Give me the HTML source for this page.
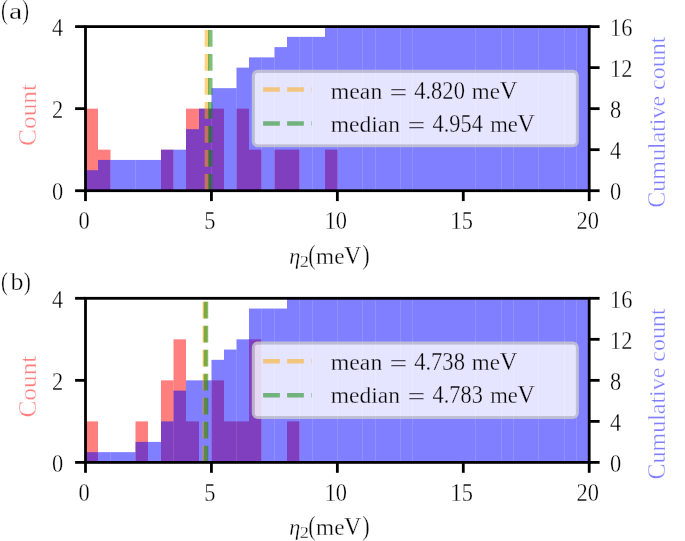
<!DOCTYPE html>
<html><head><meta charset="utf-8"><title>Histogram</title>
<style>
html,body{margin:0;padding:0;background:#fff;}
svg{display:block;will-change:transform;}
.t{font-family:"Liberation Serif",serif;font-size:24px;fill:#000;stroke:#fff;stroke-width:0.3px;stroke-linejoin:round;}
.lg .t{stroke:#e5e5ff;}
</style></head>
<body>
<svg width="685" height="541" viewBox="0 0 685 541">
<rect x="0" y="0" width="685" height="541" fill="#fff"/>
<g>
<rect x="85.50" y="108.65" width="12.50" height="82.05" fill="#ff0000" fill-opacity="0.5"/>
<rect x="98.00" y="149.67" width="12.50" height="41.02" fill="#ff0000" fill-opacity="0.5"/>
<rect x="161.00" y="149.67" width="12.50" height="41.02" fill="#ff0000" fill-opacity="0.5"/>
<rect x="186.00" y="108.65" width="13.00" height="82.05" fill="#ff0000" fill-opacity="0.5"/>
<rect x="199.00" y="108.65" width="12.50" height="82.05" fill="#ff0000" fill-opacity="0.5"/>
<rect x="211.50" y="108.65" width="12.50" height="82.05" fill="#ff0000" fill-opacity="0.5"/>
<rect x="236.50" y="108.65" width="12.50" height="82.05" fill="#ff0000" fill-opacity="0.5"/>
<rect x="249.00" y="149.67" width="12.50" height="41.02" fill="#ff0000" fill-opacity="0.5"/>
<rect x="274.50" y="149.67" width="12.50" height="41.02" fill="#ff0000" fill-opacity="0.5"/>
<rect x="287.00" y="149.67" width="12.50" height="41.02" fill="#ff0000" fill-opacity="0.5"/>
<rect x="325.00" y="149.67" width="12.50" height="41.02" fill="#ff0000" fill-opacity="0.5"/>
<rect x="85.50" y="170.19" width="12.50" height="20.51" fill="#0000ff" fill-opacity="0.5"/>
<rect x="98.00" y="159.93" width="12.50" height="30.77" fill="#0000ff" fill-opacity="0.5"/>
<rect x="110.50" y="159.93" width="12.50" height="30.77" fill="#0000ff" fill-opacity="0.5"/>
<rect x="123.00" y="159.93" width="12.50" height="30.77" fill="#0000ff" fill-opacity="0.5"/>
<rect x="135.50" y="159.93" width="12.50" height="30.77" fill="#0000ff" fill-opacity="0.5"/>
<rect x="148.00" y="159.93" width="13.00" height="30.77" fill="#0000ff" fill-opacity="0.5"/>
<rect x="161.00" y="149.67" width="12.50" height="41.02" fill="#0000ff" fill-opacity="0.5"/>
<rect x="173.50" y="149.67" width="12.50" height="41.02" fill="#0000ff" fill-opacity="0.5"/>
<rect x="186.00" y="129.16" width="13.00" height="61.54" fill="#0000ff" fill-opacity="0.5"/>
<rect x="199.00" y="108.65" width="12.50" height="82.05" fill="#0000ff" fill-opacity="0.5"/>
<rect x="211.50" y="88.14" width="12.50" height="102.56" fill="#0000ff" fill-opacity="0.5"/>
<rect x="224.00" y="88.14" width="12.50" height="102.56" fill="#0000ff" fill-opacity="0.5"/>
<rect x="236.50" y="67.62" width="12.50" height="123.07" fill="#0000ff" fill-opacity="0.5"/>
<rect x="249.00" y="57.37" width="12.50" height="133.33" fill="#0000ff" fill-opacity="0.5"/>
<rect x="261.50" y="57.37" width="13.00" height="133.33" fill="#0000ff" fill-opacity="0.5"/>
<rect x="274.50" y="47.11" width="12.50" height="143.59" fill="#0000ff" fill-opacity="0.5"/>
<rect x="287.00" y="36.86" width="12.50" height="153.84" fill="#0000ff" fill-opacity="0.5"/>
<rect x="299.50" y="36.86" width="13.00" height="153.84" fill="#0000ff" fill-opacity="0.5"/>
<rect x="312.50" y="36.86" width="12.50" height="153.84" fill="#0000ff" fill-opacity="0.5"/>
<rect x="325.00" y="26.60" width="12.50" height="164.10" fill="#0000ff" fill-opacity="0.5"/>
<rect x="337.50" y="26.60" width="12.50" height="164.10" fill="#0000ff" fill-opacity="0.5"/>
<rect x="350.00" y="26.60" width="12.50" height="164.10" fill="#0000ff" fill-opacity="0.5"/>
<rect x="362.50" y="26.60" width="13.00" height="164.10" fill="#0000ff" fill-opacity="0.5"/>
<rect x="375.50" y="26.60" width="12.50" height="164.10" fill="#0000ff" fill-opacity="0.5"/>
<rect x="388.00" y="26.60" width="12.50" height="164.10" fill="#0000ff" fill-opacity="0.5"/>
<rect x="400.50" y="26.60" width="12.00" height="164.10" fill="#0000ff" fill-opacity="0.5"/>
<rect x="412.50" y="26.60" width="12.50" height="164.10" fill="#0000ff" fill-opacity="0.5"/>
<rect x="425.00" y="26.60" width="13.00" height="164.10" fill="#0000ff" fill-opacity="0.5"/>
<rect x="438.00" y="26.60" width="13.00" height="164.10" fill="#0000ff" fill-opacity="0.5"/>
<rect x="451.00" y="26.60" width="12.00" height="164.10" fill="#0000ff" fill-opacity="0.5"/>
<rect x="463.00" y="26.60" width="12.50" height="164.10" fill="#0000ff" fill-opacity="0.5"/>
<rect x="475.50" y="26.60" width="12.50" height="164.10" fill="#0000ff" fill-opacity="0.5"/>
<rect x="488.00" y="26.60" width="13.50" height="164.10" fill="#0000ff" fill-opacity="0.5"/>
<rect x="501.50" y="26.60" width="12.00" height="164.10" fill="#0000ff" fill-opacity="0.5"/>
<rect x="513.50" y="26.60" width="12.50" height="164.10" fill="#0000ff" fill-opacity="0.5"/>
<rect x="526.00" y="26.60" width="12.50" height="164.10" fill="#0000ff" fill-opacity="0.5"/>
<rect x="538.50" y="26.60" width="12.50" height="164.10" fill="#0000ff" fill-opacity="0.5"/>
<rect x="551.00" y="26.60" width="13.50" height="164.10" fill="#0000ff" fill-opacity="0.5"/>
<rect x="564.50" y="26.60" width="12.00" height="164.10" fill="#0000ff" fill-opacity="0.5"/>
<rect x="576.50" y="26.60" width="12.70" height="164.10" fill="#0000ff" fill-opacity="0.5"/>
<line x1="206.89" y1="190.70" x2="206.89" y2="26.60" stroke="#ffa500" stroke-opacity="0.5" stroke-width="4.53" stroke-dasharray="16.75 7.25"/>
<line x1="210.27" y1="190.70" x2="210.27" y2="26.60" stroke="#008000" stroke-opacity="0.5" stroke-width="4.53" stroke-dasharray="16.75 7.25"/>
<rect x="85.50" y="26.60" width="503.70" height="164.10" fill="none" stroke="#000" stroke-width="2.8" stroke-linejoin="miter"/>
<line x1="85.50" y1="190.70" x2="85.50" y2="201.10" stroke="#000" stroke-width="2.8"/>
<text transform="translate(84.00 229.30) scale(0.935 1.045)" text-anchor="middle" class="t">0</text>
<line x1="211.43" y1="190.70" x2="211.43" y2="201.10" stroke="#000" stroke-width="2.8"/>
<text transform="translate(209.93 229.30) scale(0.935 1.045)" text-anchor="middle" class="t">5</text>
<line x1="337.35" y1="190.70" x2="337.35" y2="201.10" stroke="#000" stroke-width="2.8"/>
<text transform="translate(335.85 229.30) scale(0.935 1.045)" text-anchor="middle" class="t">10</text>
<line x1="463.28" y1="190.70" x2="463.28" y2="201.10" stroke="#000" stroke-width="2.8"/>
<text transform="translate(461.78 229.30) scale(0.935 1.045)" text-anchor="middle" class="t">15</text>
<line x1="589.20" y1="190.70" x2="589.20" y2="201.10" stroke="#000" stroke-width="2.8"/>
<text transform="translate(587.70 229.30) scale(0.935 1.045)" text-anchor="middle" class="t">20</text>
<line x1="85.50" y1="190.70" x2="75.10" y2="190.70" stroke="#000" stroke-width="2.8"/>
<text transform="translate(63.2 200.00) scale(0.935 1.045)" text-anchor="end" class="t">0</text>
<line x1="85.50" y1="108.65" x2="75.10" y2="108.65" stroke="#000" stroke-width="2.8"/>
<text transform="translate(63.2 117.95) scale(0.935 1.045)" text-anchor="end" class="t">2</text>
<line x1="85.50" y1="26.60" x2="75.10" y2="26.60" stroke="#000" stroke-width="2.8"/>
<text transform="translate(63.2 35.90) scale(0.935 1.045)" text-anchor="end" class="t">4</text>
<line x1="589.20" y1="190.70" x2="599.60" y2="190.70" stroke="#000" stroke-width="2.8"/>
<text transform="translate(610.1 200.00) scale(0.935 1.045)" text-anchor="start" class="t">0</text>
<line x1="589.20" y1="149.67" x2="599.60" y2="149.67" stroke="#000" stroke-width="2.8"/>
<text transform="translate(610.1 158.97) scale(0.935 1.045)" text-anchor="start" class="t">4</text>
<line x1="589.20" y1="108.65" x2="599.60" y2="108.65" stroke="#000" stroke-width="2.8"/>
<text transform="translate(610.1 117.95) scale(0.935 1.045)" text-anchor="start" class="t">8</text>
<line x1="589.20" y1="67.62" x2="599.60" y2="67.62" stroke="#000" stroke-width="2.8"/>
<text transform="translate(610.1 76.92) scale(0.935 1.045)" text-anchor="start" class="t">12</text>
<line x1="589.20" y1="26.60" x2="599.60" y2="26.60" stroke="#000" stroke-width="2.8"/>
<text transform="translate(610.1 35.90) scale(0.935 1.045)" text-anchor="start" class="t">16</text>
<g transform="translate(35.8 145.90) rotate(-90)"><text transform="translate(0.00 0) scale(1 1.08)" class="t" style="fill:#ff0000;fill-opacity:0.5" textLength="16.91" lengthAdjust="spacingAndGlyphs">C</text><text transform="translate(16.91 0) scale(1 1.0)" class="t" style="fill:#ff0000;fill-opacity:0.5" textLength="45.09" lengthAdjust="spacingAndGlyphs">ount</text></g>
<g transform="translate(665.4 207.70) rotate(-90)"><text transform="translate(0.00 0) scale(1 1.08)" class="t" style="fill:#0000ff;fill-opacity:0.5" textLength="15.98" lengthAdjust="spacingAndGlyphs">C</text><text transform="translate(15.98 0) scale(1 1.0)" class="t" style="fill:#0000ff;fill-opacity:0.5" textLength="42.59" lengthAdjust="spacingAndGlyphs">umu</text><text transform="translate(58.57 0) scale(1 1.08)" class="t" style="fill:#0000ff;fill-opacity:0.5" textLength="6.66" lengthAdjust="spacingAndGlyphs">l</text><text transform="translate(65.23 0) scale(1 1.0)" class="t" style="fill:#0000ff;fill-opacity:0.5" textLength="46.56" lengthAdjust="spacingAndGlyphs">ative</text><text transform="translate(117.77 0) scale(1 1.0)" class="t" style="fill:#0000ff;fill-opacity:0.5" textLength="53.23" lengthAdjust="spacingAndGlyphs">count</text></g>
<text x="289.2" y="263.90" class="t" font-style="italic" textLength="11.0" lengthAdjust="spacingAndGlyphs">η</text>
<text x="299.7" y="266.70" class="t" style="font-size:16.8px" textLength="9.2" lengthAdjust="spacingAndGlyphs">2</text>
<text transform="translate(308.30 263.90) scale(1 1.13)" class="t" textLength="7.40" lengthAdjust="spacingAndGlyphs">(</text>
<text transform="translate(316.10 263.90) scale(1 1.0)" class="t" textLength="28.36" lengthAdjust="spacingAndGlyphs">me</text>
<text transform="translate(344.30 263.90) scale(1 1.05)" class="t" textLength="16.90" lengthAdjust="spacingAndGlyphs">V</text>
<text transform="translate(362.30 263.90) scale(1 1.13)" class="t" textLength="7.40" lengthAdjust="spacingAndGlyphs">)</text>
<text transform="translate(1.10 18.70) scale(1 1.1)" class="t" textLength="6.80" lengthAdjust="spacingAndGlyphs">(</text>
<text transform="translate(8.90 18.70) scale(1 1.0)" class="t" textLength="13.30" lengthAdjust="spacingAndGlyphs">a</text>
<text transform="translate(22.30 18.70) scale(1 1.1)" class="t" textLength="6.80" lengthAdjust="spacingAndGlyphs">)</text>
<rect x="254.6" y="72.65" width="321.6" height="72.0" rx="3.4" ry="3.4" fill="#fff" fill-opacity="0.8"/>
<rect x="253.35" y="71.35" width="323.95" height="74.45" rx="4.6" ry="4.6" fill="none" stroke="#cccccc" stroke-opacity="0.8" stroke-width="3.1"/>
<line x1="263.1" y1="89.60" x2="311.6" y2="89.60" stroke="#ffa500" stroke-opacity="0.5" stroke-width="4.53" stroke-dasharray="16.75 7.25"/>
<line x1="263.1" y1="123.50" x2="311.6" y2="123.50" stroke="#008000" stroke-opacity="0.5" stroke-width="4.53" stroke-dasharray="16.75 7.25"/>
<g class="lg">
<text transform="translate(330.70 99.00) scale(1 1.0)" class="t" textLength="51.60" lengthAdjust="spacingAndGlyphs">mean</text>
<text transform="translate(389.60 100.40) scale(1 1.0)" class="t" textLength="17.90" lengthAdjust="spacingAndGlyphs">=</text>
<text transform="translate(414.20 99.00) scale(1 1.025)" class="t" textLength="50.70" lengthAdjust="spacingAndGlyphs">4.820</text>
<text transform="translate(471.80 99.00) scale(1 1.0)" class="t" textLength="28.16" lengthAdjust="spacingAndGlyphs">me</text>
<text transform="translate(499.66 99.00) scale(1 1.025)" class="t" textLength="17.64" lengthAdjust="spacingAndGlyphs">V</text>
<text transform="translate(330.70 132.00) scale(1 1.0)" class="t" textLength="69.40" lengthAdjust="spacingAndGlyphs">median</text>
<text transform="translate(407.40 133.40) scale(1 1.0)" class="t" textLength="17.90" lengthAdjust="spacingAndGlyphs">=</text>
<text transform="translate(432.60 132.00) scale(1 1.025)" class="t" textLength="50.20" lengthAdjust="spacingAndGlyphs">4.954</text>
<text transform="translate(490.20 132.00) scale(1 1.0)" class="t" textLength="27.66" lengthAdjust="spacingAndGlyphs">me</text>
<text transform="translate(517.56 132.00) scale(1 1.025)" class="t" textLength="17.34" lengthAdjust="spacingAndGlyphs">V</text>
</g>
</g>
<g>
<rect x="85.50" y="421.38" width="12.50" height="41.02" fill="#ff0000" fill-opacity="0.5"/>
<rect x="135.50" y="421.38" width="12.50" height="41.02" fill="#ff0000" fill-opacity="0.5"/>
<rect x="161.00" y="380.35" width="12.50" height="82.05" fill="#ff0000" fill-opacity="0.5"/>
<rect x="173.50" y="339.32" width="12.50" height="123.07" fill="#ff0000" fill-opacity="0.5"/>
<rect x="186.00" y="421.38" width="13.00" height="41.02" fill="#ff0000" fill-opacity="0.5"/>
<rect x="211.50" y="380.35" width="12.50" height="82.05" fill="#ff0000" fill-opacity="0.5"/>
<rect x="224.00" y="421.38" width="12.50" height="41.02" fill="#ff0000" fill-opacity="0.5"/>
<rect x="236.50" y="421.38" width="12.50" height="41.02" fill="#ff0000" fill-opacity="0.5"/>
<rect x="249.00" y="339.32" width="12.50" height="123.07" fill="#ff0000" fill-opacity="0.5"/>
<rect x="287.00" y="421.38" width="12.50" height="41.02" fill="#ff0000" fill-opacity="0.5"/>
<rect x="85.50" y="452.14" width="12.50" height="10.26" fill="#0000ff" fill-opacity="0.5"/>
<rect x="98.00" y="452.14" width="12.50" height="10.26" fill="#0000ff" fill-opacity="0.5"/>
<rect x="110.50" y="452.14" width="12.50" height="10.26" fill="#0000ff" fill-opacity="0.5"/>
<rect x="123.00" y="452.14" width="12.50" height="10.26" fill="#0000ff" fill-opacity="0.5"/>
<rect x="135.50" y="441.89" width="12.50" height="20.51" fill="#0000ff" fill-opacity="0.5"/>
<rect x="148.00" y="441.89" width="13.00" height="20.51" fill="#0000ff" fill-opacity="0.5"/>
<rect x="161.00" y="421.38" width="12.50" height="41.02" fill="#0000ff" fill-opacity="0.5"/>
<rect x="173.50" y="390.61" width="12.50" height="71.79" fill="#0000ff" fill-opacity="0.5"/>
<rect x="186.00" y="380.35" width="13.00" height="82.05" fill="#0000ff" fill-opacity="0.5"/>
<rect x="199.00" y="380.35" width="12.50" height="82.05" fill="#0000ff" fill-opacity="0.5"/>
<rect x="211.50" y="359.84" width="12.50" height="102.56" fill="#0000ff" fill-opacity="0.5"/>
<rect x="224.00" y="349.58" width="12.50" height="112.82" fill="#0000ff" fill-opacity="0.5"/>
<rect x="236.50" y="339.32" width="12.50" height="123.07" fill="#0000ff" fill-opacity="0.5"/>
<rect x="249.00" y="308.56" width="12.50" height="153.84" fill="#0000ff" fill-opacity="0.5"/>
<rect x="261.50" y="308.56" width="13.00" height="153.84" fill="#0000ff" fill-opacity="0.5"/>
<rect x="274.50" y="308.56" width="12.50" height="153.84" fill="#0000ff" fill-opacity="0.5"/>
<rect x="287.00" y="298.30" width="12.50" height="164.10" fill="#0000ff" fill-opacity="0.5"/>
<rect x="299.50" y="298.30" width="13.00" height="164.10" fill="#0000ff" fill-opacity="0.5"/>
<rect x="312.50" y="298.30" width="12.50" height="164.10" fill="#0000ff" fill-opacity="0.5"/>
<rect x="325.00" y="298.30" width="12.50" height="164.10" fill="#0000ff" fill-opacity="0.5"/>
<rect x="337.50" y="298.30" width="12.50" height="164.10" fill="#0000ff" fill-opacity="0.5"/>
<rect x="350.00" y="298.30" width="12.50" height="164.10" fill="#0000ff" fill-opacity="0.5"/>
<rect x="362.50" y="298.30" width="13.00" height="164.10" fill="#0000ff" fill-opacity="0.5"/>
<rect x="375.50" y="298.30" width="12.50" height="164.10" fill="#0000ff" fill-opacity="0.5"/>
<rect x="388.00" y="298.30" width="12.50" height="164.10" fill="#0000ff" fill-opacity="0.5"/>
<rect x="400.50" y="298.30" width="12.00" height="164.10" fill="#0000ff" fill-opacity="0.5"/>
<rect x="412.50" y="298.30" width="12.50" height="164.10" fill="#0000ff" fill-opacity="0.5"/>
<rect x="425.00" y="298.30" width="13.00" height="164.10" fill="#0000ff" fill-opacity="0.5"/>
<rect x="438.00" y="298.30" width="13.00" height="164.10" fill="#0000ff" fill-opacity="0.5"/>
<rect x="451.00" y="298.30" width="12.00" height="164.10" fill="#0000ff" fill-opacity="0.5"/>
<rect x="463.00" y="298.30" width="12.50" height="164.10" fill="#0000ff" fill-opacity="0.5"/>
<rect x="475.50" y="298.30" width="12.50" height="164.10" fill="#0000ff" fill-opacity="0.5"/>
<rect x="488.00" y="298.30" width="13.50" height="164.10" fill="#0000ff" fill-opacity="0.5"/>
<rect x="501.50" y="298.30" width="12.00" height="164.10" fill="#0000ff" fill-opacity="0.5"/>
<rect x="513.50" y="298.30" width="12.50" height="164.10" fill="#0000ff" fill-opacity="0.5"/>
<rect x="526.00" y="298.30" width="12.50" height="164.10" fill="#0000ff" fill-opacity="0.5"/>
<rect x="538.50" y="298.30" width="12.50" height="164.10" fill="#0000ff" fill-opacity="0.5"/>
<rect x="551.00" y="298.30" width="13.50" height="164.10" fill="#0000ff" fill-opacity="0.5"/>
<rect x="564.50" y="298.30" width="12.00" height="164.10" fill="#0000ff" fill-opacity="0.5"/>
<rect x="576.50" y="298.30" width="12.70" height="164.10" fill="#0000ff" fill-opacity="0.5"/>
<line x1="204.83" y1="462.40" x2="204.83" y2="298.30" stroke="#ffa500" stroke-opacity="0.5" stroke-width="4.53" stroke-dasharray="16.75 7.25"/>
<line x1="205.96" y1="462.40" x2="205.96" y2="298.30" stroke="#008000" stroke-opacity="0.5" stroke-width="4.53" stroke-dasharray="16.75 7.25"/>
<rect x="85.50" y="298.30" width="503.70" height="164.10" fill="none" stroke="#000" stroke-width="2.8" stroke-linejoin="miter"/>
<line x1="85.50" y1="462.40" x2="85.50" y2="472.80" stroke="#000" stroke-width="2.8"/>
<text transform="translate(84.00 501.00) scale(0.935 1.045)" text-anchor="middle" class="t">0</text>
<line x1="211.43" y1="462.40" x2="211.43" y2="472.80" stroke="#000" stroke-width="2.8"/>
<text transform="translate(209.93 501.00) scale(0.935 1.045)" text-anchor="middle" class="t">5</text>
<line x1="337.35" y1="462.40" x2="337.35" y2="472.80" stroke="#000" stroke-width="2.8"/>
<text transform="translate(335.85 501.00) scale(0.935 1.045)" text-anchor="middle" class="t">10</text>
<line x1="463.28" y1="462.40" x2="463.28" y2="472.80" stroke="#000" stroke-width="2.8"/>
<text transform="translate(461.78 501.00) scale(0.935 1.045)" text-anchor="middle" class="t">15</text>
<line x1="589.20" y1="462.40" x2="589.20" y2="472.80" stroke="#000" stroke-width="2.8"/>
<text transform="translate(587.70 501.00) scale(0.935 1.045)" text-anchor="middle" class="t">20</text>
<line x1="85.50" y1="462.40" x2="75.10" y2="462.40" stroke="#000" stroke-width="2.8"/>
<text transform="translate(63.2 471.70) scale(0.935 1.045)" text-anchor="end" class="t">0</text>
<line x1="85.50" y1="380.35" x2="75.10" y2="380.35" stroke="#000" stroke-width="2.8"/>
<text transform="translate(63.2 389.65) scale(0.935 1.045)" text-anchor="end" class="t">2</text>
<line x1="85.50" y1="298.30" x2="75.10" y2="298.30" stroke="#000" stroke-width="2.8"/>
<text transform="translate(63.2 307.60) scale(0.935 1.045)" text-anchor="end" class="t">4</text>
<line x1="589.20" y1="462.40" x2="599.60" y2="462.40" stroke="#000" stroke-width="2.8"/>
<text transform="translate(610.1 471.70) scale(0.935 1.045)" text-anchor="start" class="t">0</text>
<line x1="589.20" y1="421.38" x2="599.60" y2="421.38" stroke="#000" stroke-width="2.8"/>
<text transform="translate(610.1 430.68) scale(0.935 1.045)" text-anchor="start" class="t">4</text>
<line x1="589.20" y1="380.35" x2="599.60" y2="380.35" stroke="#000" stroke-width="2.8"/>
<text transform="translate(610.1 389.65) scale(0.935 1.045)" text-anchor="start" class="t">8</text>
<line x1="589.20" y1="339.32" x2="599.60" y2="339.32" stroke="#000" stroke-width="2.8"/>
<text transform="translate(610.1 348.62) scale(0.935 1.045)" text-anchor="start" class="t">12</text>
<line x1="589.20" y1="298.30" x2="599.60" y2="298.30" stroke="#000" stroke-width="2.8"/>
<text transform="translate(610.1 307.60) scale(0.935 1.045)" text-anchor="start" class="t">16</text>
<g transform="translate(35.8 417.60) rotate(-90)"><text transform="translate(0.00 0) scale(1 1.08)" class="t" style="fill:#ff0000;fill-opacity:0.5" textLength="16.91" lengthAdjust="spacingAndGlyphs">C</text><text transform="translate(16.91 0) scale(1 1.0)" class="t" style="fill:#ff0000;fill-opacity:0.5" textLength="45.09" lengthAdjust="spacingAndGlyphs">ount</text></g>
<g transform="translate(665.4 479.40) rotate(-90)"><text transform="translate(0.00 0) scale(1 1.08)" class="t" style="fill:#0000ff;fill-opacity:0.5" textLength="15.98" lengthAdjust="spacingAndGlyphs">C</text><text transform="translate(15.98 0) scale(1 1.0)" class="t" style="fill:#0000ff;fill-opacity:0.5" textLength="42.59" lengthAdjust="spacingAndGlyphs">umu</text><text transform="translate(58.57 0) scale(1 1.08)" class="t" style="fill:#0000ff;fill-opacity:0.5" textLength="6.66" lengthAdjust="spacingAndGlyphs">l</text><text transform="translate(65.23 0) scale(1 1.0)" class="t" style="fill:#0000ff;fill-opacity:0.5" textLength="46.56" lengthAdjust="spacingAndGlyphs">ative</text><text transform="translate(117.77 0) scale(1 1.0)" class="t" style="fill:#0000ff;fill-opacity:0.5" textLength="53.23" lengthAdjust="spacingAndGlyphs">count</text></g>
<text x="289.2" y="535.00" class="t" font-style="italic" textLength="11.0" lengthAdjust="spacingAndGlyphs">η</text>
<text x="299.7" y="537.80" class="t" style="font-size:16.8px" textLength="9.2" lengthAdjust="spacingAndGlyphs">2</text>
<text transform="translate(308.30 535.00) scale(1 1.13)" class="t" textLength="7.40" lengthAdjust="spacingAndGlyphs">(</text>
<text transform="translate(316.10 535.00) scale(1 1.0)" class="t" textLength="28.36" lengthAdjust="spacingAndGlyphs">me</text>
<text transform="translate(344.30 535.00) scale(1 1.05)" class="t" textLength="16.90" lengthAdjust="spacingAndGlyphs">V</text>
<text transform="translate(362.30 535.00) scale(1 1.13)" class="t" textLength="7.40" lengthAdjust="spacingAndGlyphs">)</text>
<text transform="translate(1.10 290.20) scale(1 1.08)" class="t" textLength="6.80" lengthAdjust="spacingAndGlyphs">(</text>
<text transform="translate(10.40 290.00) scale(1 1.09)" class="t" textLength="13.00" lengthAdjust="spacingAndGlyphs">b</text>
<text transform="translate(23.90 290.20) scale(1 1.08)" class="t" textLength="6.80" lengthAdjust="spacingAndGlyphs">)</text>
<rect x="254.6" y="344.35" width="321.6" height="72.0" rx="3.4" ry="3.4" fill="#fff" fill-opacity="0.8"/>
<rect x="253.35" y="343.05" width="323.95" height="74.45" rx="4.6" ry="4.6" fill="none" stroke="#cccccc" stroke-opacity="0.8" stroke-width="3.1"/>
<line x1="263.1" y1="361.30" x2="311.6" y2="361.30" stroke="#ffa500" stroke-opacity="0.5" stroke-width="4.53" stroke-dasharray="16.75 7.25"/>
<line x1="263.1" y1="395.20" x2="311.6" y2="395.20" stroke="#008000" stroke-opacity="0.5" stroke-width="4.53" stroke-dasharray="16.75 7.25"/>
<g class="lg">
<text transform="translate(330.70 370.00) scale(1 1.0)" class="t" textLength="51.60" lengthAdjust="spacingAndGlyphs">mean</text>
<text transform="translate(389.60 371.40) scale(1 1.0)" class="t" textLength="17.90" lengthAdjust="spacingAndGlyphs">=</text>
<text transform="translate(414.20 370.00) scale(1 1.025)" class="t" textLength="50.70" lengthAdjust="spacingAndGlyphs">4.738</text>
<text transform="translate(471.80 370.00) scale(1 1.0)" class="t" textLength="28.16" lengthAdjust="spacingAndGlyphs">me</text>
<text transform="translate(499.66 370.00) scale(1 1.025)" class="t" textLength="17.64" lengthAdjust="spacingAndGlyphs">V</text>
<text transform="translate(330.70 403.00) scale(1 1.0)" class="t" textLength="69.40" lengthAdjust="spacingAndGlyphs">median</text>
<text transform="translate(407.40 404.40) scale(1 1.0)" class="t" textLength="17.90" lengthAdjust="spacingAndGlyphs">=</text>
<text transform="translate(432.60 403.00) scale(1 1.025)" class="t" textLength="50.20" lengthAdjust="spacingAndGlyphs">4.783</text>
<text transform="translate(490.20 403.00) scale(1 1.0)" class="t" textLength="27.66" lengthAdjust="spacingAndGlyphs">me</text>
<text transform="translate(517.56 403.00) scale(1 1.025)" class="t" textLength="17.34" lengthAdjust="spacingAndGlyphs">V</text>
</g>
</g>
</svg>
</body></html>
